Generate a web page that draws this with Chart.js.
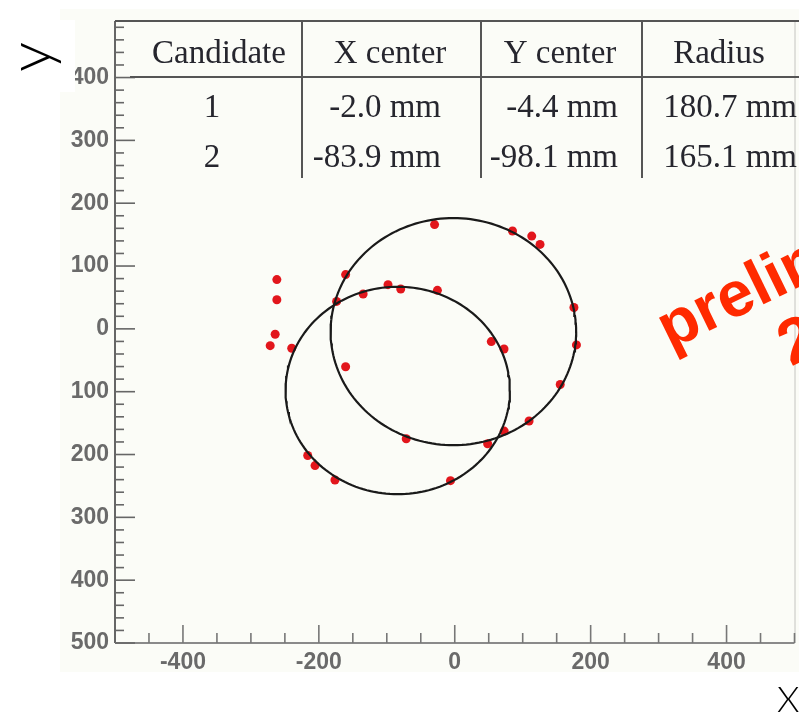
<!DOCTYPE html>
<html>
<head>
<meta charset="utf-8">
<script src="https://cdn.jsdelivr.net/npm/chart.js@4/dist/chart.umd.min.js"></script>
<style>
  html, body { margin: 0; padding: 0; background: #ffffff; }
  canvas { display: block; }
</style>
</head>
<body>
<canvas id="c" width="799" height="718"></canvas>
<script>
// ---- data ----
const candidates = [1, 2];
const xCenters = [-2.0, -83.9];   // mm
const yCenters = [-4.4, -98.1];   // mm
const radii = [180.7, 165.1];     // mm

const hitX = [-29.7, 85, 113.3, 125.5, -160.6, -261.8, -261.8, -134.8, -98.2, -79.5, -25.5, -173.9, 175.4,
              -264.3, -271.6, -239.9, 53.8, 72.5, 179.1, -160.6, 155.2, 109.4, 72.8, 48.4, -71.4,
              -216.4, -205.6, -176.3, -6.3];
const hitY = [166, 155.7, 147.7, 134.4, 86.4, 78.4, 46.4, 55.5, 70.4, 63.5, 61.3, 43.7, 34,
              -8.5, -26.7, -30.9, -20.3, -32, -25.6, -60.3, -88.5, -146.7, -162.7, -182.9, -174.9,
              -201.6, -217.6, -240.5, -241.6];

const xTickValues = [-400, -200, 0, 200, 400];
const yTickValues = [400, 300, 200, 100, 0, -100, -200, -300, -400, -500];
const tableHeaders = ["Candidate", "X center", "Y center", "Radius"];
const watermark = ["preliminary", "2010"];
const axisTitleX = "X";
const axisTitleY = "y";

// ---- build datasets ----
const hits = hitX.map((x, i) => ({ x: x, y: hitY[i] }));
function ringPoints(i) {
  const pts = [];
  const n = 180;
  for (let k = 0; k <= n; k++) {
    const a = (k / n) * 2 * Math.PI;
    pts.push({ x: xCenters[i] + radii[i] * Math.cos(a), y: yCenters[i] + radii[i] * Math.sin(a) });
  }
  return pts;
}

const tickFont = { family: '"Liberation Sans", Arial, sans-serif', size: 23, weight: 'bold' };
const tickColor = '#6a6a6a';

const framePlugin = {
  id: 'frame',
  beforeDraw(chart) {
    const ctx = chart.ctx;
    ctx.save();
    ctx.fillStyle = '#ffffff';
    ctx.fillRect(0, 0, chart.width, chart.height);
    ctx.fillStyle = '#fbfcf7';
    ctx.fillRect(60, 9, chart.width - 60, 663);
    ctx.restore();
  },
  afterDraw(chart) {
    const ctx = chart.ctx;
    const xs = chart.scales.x, ys = chart.scales.y;
    const a = chart.chartArea;
    ctx.save();
    // right frame
    ctx.strokeStyle = '#c4c4c0';
    ctx.lineWidth = 1;
    ctx.beginPath(); ctx.moveTo(a.right + 0.5, a.top); ctx.lineTo(a.right + 0.5, a.bottom); ctx.stroke();
    // axis lines
    ctx.strokeStyle = '#666666';
    ctx.lineWidth = 2;
    ctx.beginPath(); ctx.moveTo(a.left, a.top); ctx.lineTo(a.left, a.bottom); ctx.stroke();
    ctx.strokeStyle = '#8a8a8a';
    ctx.beginPath(); ctx.moveTo(a.left, a.bottom); ctx.lineTo(a.right, a.bottom); ctx.stroke();
    // inward ticks y
    ctx.strokeStyle = '#666666';
    ctx.lineWidth = 1.6;
    for (let v = -500; v <= 480; v += 20) {
      const p = ys.getPixelForValue(v);
      const len = (v % 100 === 0) ? 20 : 9;
      ctx.beginPath(); ctx.moveTo(a.left, p); ctx.lineTo(a.left + len, p); ctx.stroke();
    }
    // inward ticks x
    ctx.strokeStyle = '#777777';
    for (let v = -450; v <= 500; v += 50) {
      const p = xs.getPixelForValue(v);
      const len = (v % 200 === 0) ? 18 : 10;
      ctx.beginPath(); ctx.moveTo(p, a.bottom); ctx.lineTo(p, a.bottom - len); ctx.stroke();
    }
    // table
    ctx.strokeStyle = '#555555';
    ctx.lineWidth = 2;
    ctx.beginPath(); ctx.moveTo(a.left, a.top); ctx.lineTo(chart.width, a.top); ctx.stroke();
    ctx.beginPath(); ctx.moveTo(130, 77); ctx.lineTo(chart.width, 77); ctx.stroke();
    [302, 481, 642].forEach(x => {
      ctx.beginPath(); ctx.moveTo(x, a.top); ctx.lineTo(x, 178); ctx.stroke();
    });
    ctx.fillStyle = '#26262e';
    ctx.font = '33px "Liberation Serif", "Times New Roman", serif';
    ctx.textBaseline = 'alphabetic';
    ctx.textAlign = 'center';
    const headX = [219, 390, 560, 719];
    tableHeaders.forEach((h, i) => ctx.fillText(h, headX[i], 63));
    const rowY = [117, 167];
    candidates.forEach((c, r) => {
      ctx.textAlign = 'center';
      ctx.fillText(String(c), 212, rowY[r]);
      ctx.textAlign = 'right';
      ctx.fillText(xCenters[r].toFixed(1) + ' mm', 441, rowY[r]);
      ctx.fillText(yCenters[r].toFixed(1) + ' mm', 618, rowY[r]);
      ctx.fillText(radii[r].toFixed(1) + ' mm', 797, rowY[r]);
    });
    // y title with white box
    ctx.fillStyle = '#ffffff';
    ctx.fillRect(0, 20, 75, 72);
    ctx.fillStyle = '#000000';
    ctx.font = '300 60px Lato, "Open Sans", "Liberation Sans", sans-serif';
    ctx.save();
    ctx.translate(32, 57);
    ctx.rotate(-Math.PI / 2);
    ctx.textAlign = 'center';
    ctx.textBaseline = 'middle';
    ctx.fillText(axisTitleY, 0, 0);
    ctx.restore();
    // x title
    ctx.font = '300 36px Lato, "Open Sans", "Liberation Sans", sans-serif';
    ctx.textAlign = 'left';
    ctx.textBaseline = 'alphabetic';
    ctx.fillText(axisTitleX, 777, 712);
    // watermark
    ctx.save();
    ctx.translate(670, 350);
    ctx.rotate(-26 * Math.PI / 180);
    ctx.fillStyle = '#ff2a00';
    ctx.font = 'bold 64px "Liberation Sans", Arial, sans-serif';
    ctx.textAlign = 'left';
    ctx.textBaseline = 'alphabetic';
    const w0 = ctx.measureText(watermark[0]).width;
    ctx.fillText(watermark[0], 0, 0);
    ctx.textAlign = 'center';
    ctx.fillText(watermark[1], w0 / 2, 68);
    ctx.restore();
    ctx.restore();
  }
};

new Chart(document.getElementById('c'), {
  type: 'scatter',
  data: {
    datasets: [
      { label: 'ring 1', data: ringPoints(0), showLine: true, pointRadius: 0, borderColor: '#1a1a1a', borderWidth: 2.2, tension: 0, fill: false },
      { label: 'ring 2', data: ringPoints(1), showLine: true, pointRadius: 0, borderColor: '#1a1a1a', borderWidth: 2.2, tension: 0, fill: false },
      { label: 'hits', data: hits, pointRadius: 4.5, pointBackgroundColor: '#e2161c', pointBorderWidth: 0, borderColor: '#e2161c' }
    ]
  },
  options: {
    responsive: false,
    animation: false,
    devicePixelRatio: 1,
    layout: { padding: { left: 0, right: 2, top: 21, bottom: 0 } },
    plugins: { legend: { display: false }, tooltip: { enabled: false } },
    scales: {
      x: {
        type: 'linear', min: -500, max: 500,
        afterBuildTicks: s => { s.ticks = xTickValues.map(v => ({ value: v })); },
        afterFit: s => { s.height = 75; },
        grid: { display: false, drawTicks: false },
        border: { display: false },
        ticks: { font: tickFont, color: tickColor, padding: 6, autoSkip: false, maxRotation: 0, callback: v => String(v) }
      },
      y: {
        type: 'linear', min: -500, max: 490,
        afterBuildTicks: s => { s.ticks = yTickValues.map(v => ({ value: v })); },
        afterFit: s => { s.width = 115; },
        grid: { display: false, drawTicks: false },
        border: { display: false },
        ticks: { font: tickFont, color: tickColor, padding: 6, autoSkip: false, callback: v => String(Math.abs(v)) }
      }
    }
  },
  plugins: [framePlugin]
});
</script>
</body>
</html>
